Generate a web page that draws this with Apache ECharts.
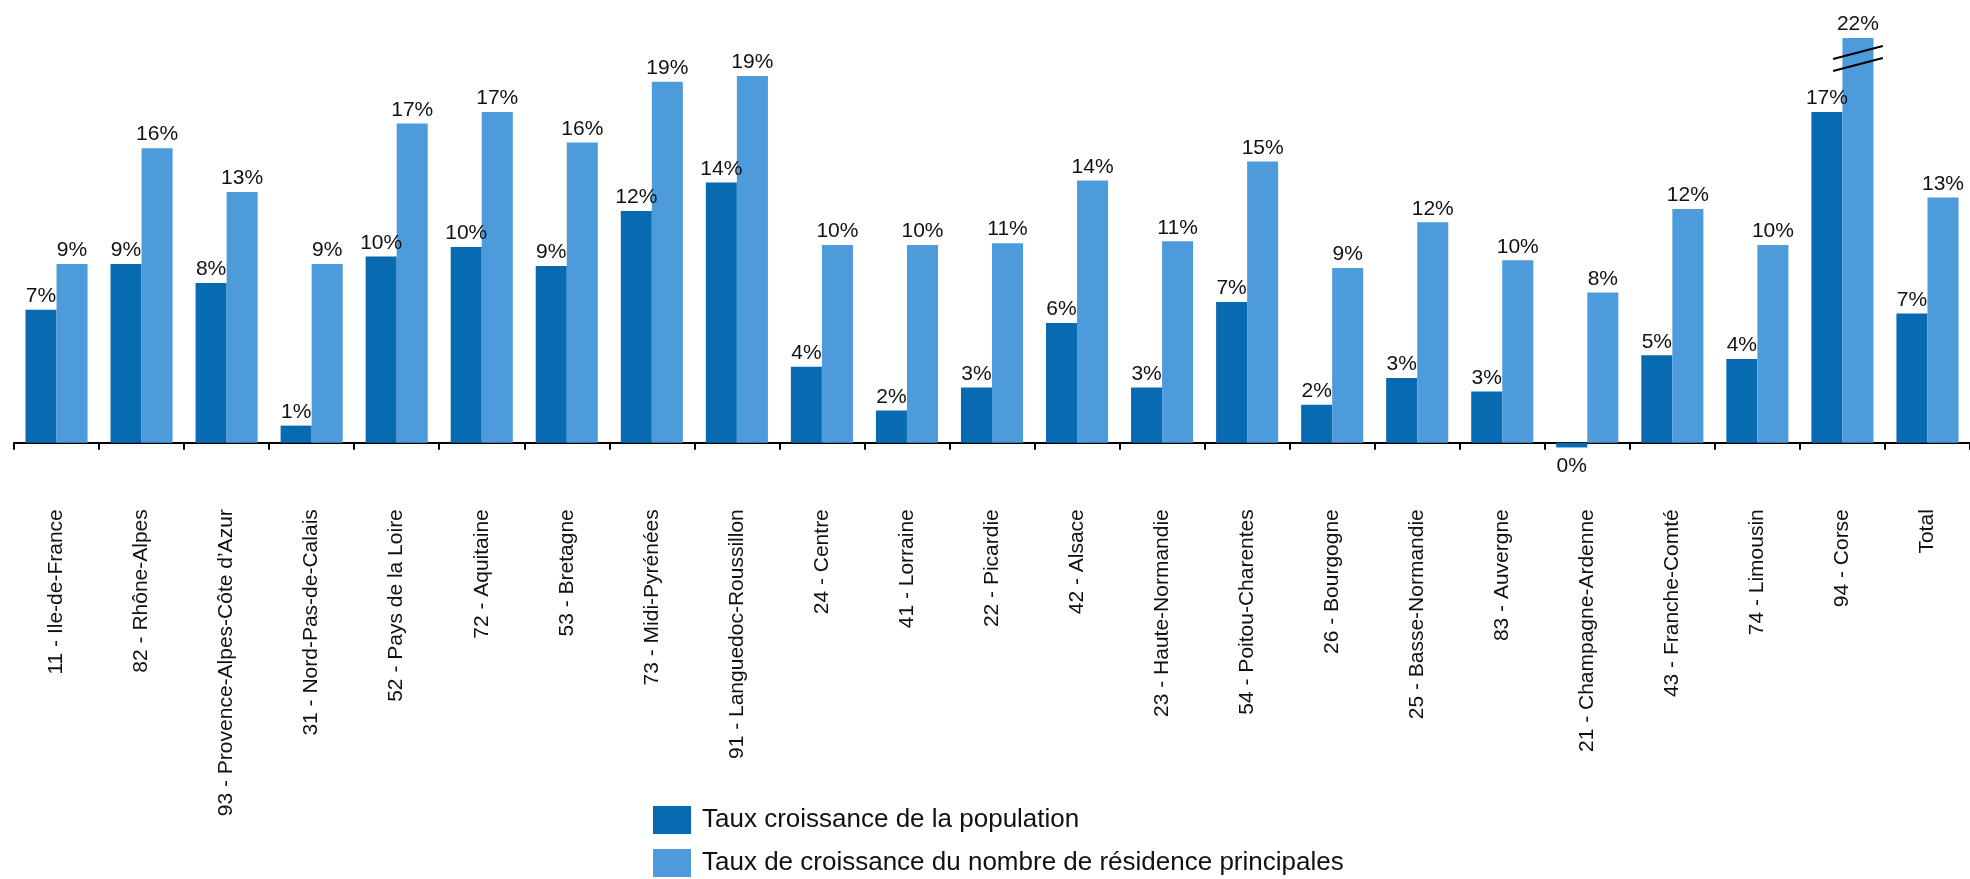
<!DOCTYPE html>
<html>
<head>
<meta charset="utf-8">
<script src="https://cdn.jsdelivr.net/npm/echarts@6/dist/echarts.min.js"></script>
<style>
html,body{margin:0;padding:0;background:#fff;}
#c{width:1970px;height:879px;}
</style>
</head>
<body>
<div id="c"></div>
<script>
const categories = [
  "11 - Ile-de-France", "82 - Rhône-Alpes", "93 - Provence-Alpes-Côte d’Azur",
  "31 - Nord-Pas-de-Calais", "52 - Pays de la Loire", "72 - Aquitaine",
  "53 - Bretagne", "73 - Midi-Pyrénées", "91 - Languedoc-Roussillon",
  "24 - Centre", "41 - Lorraine", "22 - Picardie", "42 - Alsace",
  "23 - Haute-Normandie", "54 - Poitou-Charentes", "26 - Bourgogne",
  "25 - Basse-Normandie", "83 - Auvergne", "21 - Champagne-Ardenne",
  "43 - Franche-Comté", "74 - Limousin", "94 - Corse", "Total"
];
const populationGrowth = [7.0, 9.4, 8.4, 0.9, 9.8, 10.3, 9.3, 12.2, 13.7, 4.0, 1.7, 2.9, 6.3, 2.9, 7.4, 2.0, 3.4, 2.7, -0.25, 4.6, 4.4, 17.4, 6.8];
const residenceGrowth = [9.4, 15.5, 13.2, 9.4, 16.8, 17.4, 15.8, 19.0, 19.3, 10.4, 10.4, 10.5, 13.8, 10.6, 14.8, 9.2, 11.6, 9.6, 7.9, 12.3, 10.4, 22, 12.9];
const seriesNames = ["Taux croissance de la population", "Taux de croissance du nombre de résidence principales"];
const brokenCategory = "94 - Corse";

const FONT = "Liberation Sans, Arial, sans-serif";
const labelStyle = {
  show: true, position: 'top', distance: 3,
  fontFamily: FONT, fontSize: 21, color: '#111',
  formatter: p => `${Math.round(p.value)}%`
};
function toItems(arr) {
  return arr.map(v => v < 0 ? { value: v, label: { position: 'bottom', distance: 8 } } : v);
}

const chart = echarts.init(document.getElementById('c'), null, { renderer: 'canvas' });
const option = {
  animation: false,
  backgroundColor: '#fff',
  grid: { left: 14, right: -3, top: 38, height: 414.2 },
  legend: {
    orient: 'vertical', left: 653, top: 806, padding: 0,
    itemWidth: 38, itemHeight: 28, itemGap: 15, icon: 'rect',
    textStyle: { fontFamily: FONT, fontSize: 26, color: '#111', padding: [0, 0, 0, 6] },
    data: seriesNames
  },
  xAxis: {
    type: 'category', data: categories,
    axisLine: { onZero: true, lineStyle: { color: '#000', width: 2 } },
    axisTick: { show: true, interval: 0, length: 7, lineStyle: { color: '#000', width: 2 } },
    axisLabel: { interval: 0, rotate: 90, margin: 57, fontFamily: FONT, fontSize: 21, color: '#111' }
  },
  yAxis: {
    type: 'value', min: -0.5, max: 21.3, show: false,
    splitLine: { show: false }
  },
  series: [
    { name: seriesNames[0], type: 'bar', data: toItems(populationGrowth), barGap: '0%', barCategoryGap: '27%',
      itemStyle: { color: '#086AB1' }, label: labelStyle, clip: true },
    { name: seriesNames[1], type: 'bar', data: toItems(residenceGrowth), barGap: '0%', barCategoryGap: '27%',
      itemStyle: { color: '#4E9BDB' }, label: labelStyle, clip: true }
  ]
};
chart.setOption(option);

// break marks on the truncated bar
const idx = categories.indexOf(brokenCategory);
const layout = chart.getModel().getSeriesByIndex(1).getData().getItemLayout(idx);
const cx = layout.x + layout.width / 2;
const topY = chart.convertToPixel({ yAxisIndex: 0 }, option.yAxis.max);
const half = layout.width * 0.8;
const mk = (dy) => ({
  type: 'line', z: 100,
  shape: { x1: cx - half, y1: topY + dy + 6.5, x2: cx + half, y2: topY + dy - 6.5 },
  style: { stroke: '#000', lineWidth: 2 }
});
chart.setOption({ graphic: [mk(14.5), mk(26.5)] });
</script>
</body>
</html>
